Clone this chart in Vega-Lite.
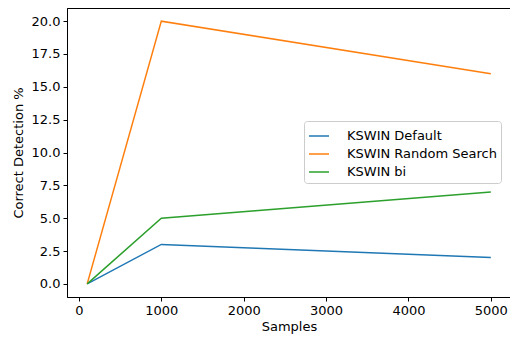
{
  "$schema": "https://vega.github.io/schema/vega-lite/v6.json",
  "autosize": "none",
  "width": 444,
  "height": 289,
  "padding": {"left": 67, "top": 8, "right": 0, "bottom": 43},
  "background": "white",
  "config": {
    "font": "DejaVu Sans",
    "view": {"stroke": "black", "strokeWidth": 1},
    "axis": {
      "grid": false,
      "domainColor": "black",
      "tickColor": "black",
      "tickSize": 4,
      "labelFontSize": 13,
      "labelColor": "black",
      "titleFontSize": 13,
      "titleFontWeight": "normal",
      "titleColor": "black",
      "labelPadding": 3
    }
  },
  "data": {
    "values": [
      {"Samples": 100, "value": 0, "series": "KSWIN Default"},
      {"Samples": 1000, "value": 3, "series": "KSWIN Default"},
      {"Samples": 5000, "value": 2, "series": "KSWIN Default"},
      {"Samples": 100, "value": 0, "series": "KSWIN Random Search"},
      {"Samples": 1000, "value": 20, "series": "KSWIN Random Search"},
      {"Samples": 5000, "value": 16, "series": "KSWIN Random Search"},
      {"Samples": 100, "value": 0, "series": "KSWIN bi"},
      {"Samples": 1000, "value": 5, "series": "KSWIN bi"},
      {"Samples": 5000, "value": 7, "series": "KSWIN bi"}
    ]
  },
  "mark": {"type": "line", "strokeWidth": 1.5},
  "encoding": {
    "x": {
      "field": "Samples",
      "type": "quantitative",
      "title": "Samples",
      "scale": {"domain": [-145, 5245], "nice": false, "zero": false},
      "axis": {"values": [0, 1000, 2000, 3000, 4000, 5000], "format": "d", "titlePadding": 3}
    },
    "y": {
      "field": "value",
      "type": "quantitative",
      "title": "Correct Detection %",
      "scale": {"domain": [-1, 21], "nice": false, "zero": false},
      "axis": {"values": [0, 2.5, 5, 7.5, 10, 12.5, 15, 17.5, 20], "format": ".1f", "titlePadding": 6}
    },
    "color": {
      "field": "series",
      "type": "nominal",
      "scale": {
        "domain": ["KSWIN Default", "KSWIN Random Search", "KSWIN bi"],
        "range": ["#1f77b4", "#ff7f0e", "#2ca02c"]
      },
      "legend": {
        "title": null,
        "orient": "none",
        "legendX": 237,
        "legendY": 113,
        "symbolType": "stroke",
        "symbolSize": 400,
        "symbolStrokeWidth": 1.5,
        "labelFontSize": 13,
        "labelColor": "black",
        "rowPadding": 0,
        "padding": 4,
        "strokeColor": "#cccccc",
        "cornerRadius": 3,
        "fillColor": "white",
        "labelOffset": 17,
        "offset": 0
      }
    }
  }
}
